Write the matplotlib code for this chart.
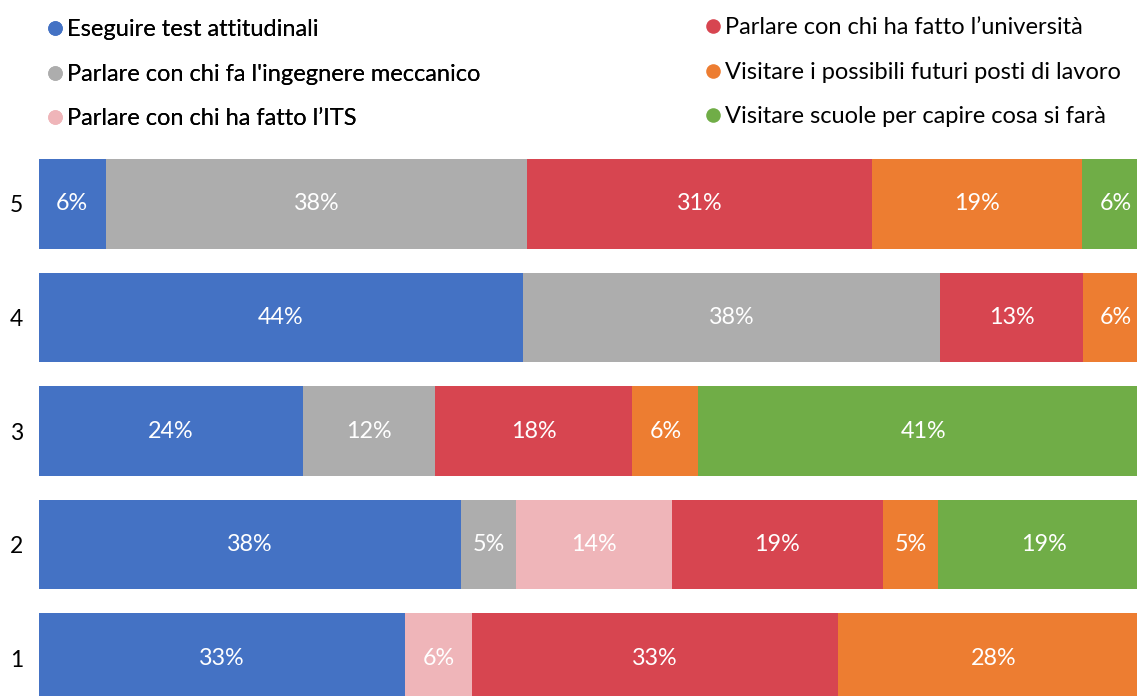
import matplotlib
matplotlib.use("Agg")
import matplotlib.pyplot as plt
from matplotlib.lines import Line2D
import numpy as np

plt.rcParams['font.family'] = ['Lato', 'DejaVu Sans']

# Rows of the chart, bottom to top
rows = ["1", "2", "3", "4", "5"]

series_names = [
    "Eseguire test attitudinali",
    "Parlare con chi fa l'ingegnere meccanico",
    "Parlare con chi ha fatto l\u2019ITS",
    "Parlare con chi ha fatto l\u2019universit\u00e0",
    "Visitare i possibili futuri posti di lavoro",
    "Visitare scuole per capire cosa si far\u00e0",
]

# Percentages per series, one value per row (1..5)
test_attitudinali = [33, 38, 24, 44, 6]
ingegnere_meccanico = [0, 5, 12, 38, 38]
chi_ha_fatto_its = [6, 14, 0, 0, 0]
chi_ha_fatto_universita = [33, 19, 18, 13, 31]
posti_di_lavoro = [28, 5, 6, 6, 19]
visitare_scuole = [0, 19, 41, 0, 6]

series_values = [test_attitudinali, ingegnere_meccanico, chi_ha_fatto_its,
                 chi_ha_fatto_universita, posti_di_lavoro, visitare_scuole]

colors = ["#4472C4", "#ADADAD", "#EFB5B9", "#D74550", "#ED7D31", "#70AD47"]

W, H = 1137, 696
fig = plt.figure(figsize=(W / 100, H / 100), dpi=100)

# plot area in pixels (it runs slightly past the right and bottom edges)
left_px, right_px = 39, 1149
top_px, bottom_px = 147, 715
ax = fig.add_axes([left_px / W, (H - bottom_px) / H,
                   (right_px - left_px) / W, (bottom_px - top_px) / H])

# 100% stacked: each row is scaled to its own total
data = np.array(series_values, dtype=float)
shares = data / data.sum(axis=0) * 100

y = np.arange(1, len(rows) + 1)
left = np.zeros(len(rows))
for vals, shr, col in zip(data, shares, colors):
    ax.barh(y, shr, left=left, height=0.79, color=col, edgecolor='none')
    for yi, l, v, s in zip(y, left, vals, shr):
        if v > 0:
            ax.text(l + s / 2, yi, f"{int(v)}%", ha='center', va='center',
                    color='white', fontsize=16.8)
    left += shr

ax.set_xlim(0, 100)
ax.set_ylim(0.5, 5.5)
ax.set_yticks(y)
ax.set_yticklabels(rows, fontsize=16.5)
ax.tick_params(axis='y', length=0, pad=11.5)
ax.set_xticks([])
for s in ax.spines.values():
    s.set_visible(False)

# legend in two columns above the bars
handles = [Line2D([0], [0], marker='o', linestyle='none', markersize=10.5,
                  markerfacecolor=c, markeredgecolor='none') for c in colors]

leg_kw = dict(loc='upper left', frameon=False, fontsize=17,
              handletextpad=0.1, labelspacing=0.99, handlelength=0.8,
              borderaxespad=0)
leg1 = fig.legend(handles[:3], series_names[:3],
                  bbox_to_anchor=(36 / W, 1 - 10 / H), **leg_kw)
leg2 = fig.legend(handles[3:], series_names[3:],
                  bbox_to_anchor=(694 / W, 1 - 8 / H), **leg_kw)
fig.add_artist(leg1)

fig.savefig("out.png", dpi=100)
